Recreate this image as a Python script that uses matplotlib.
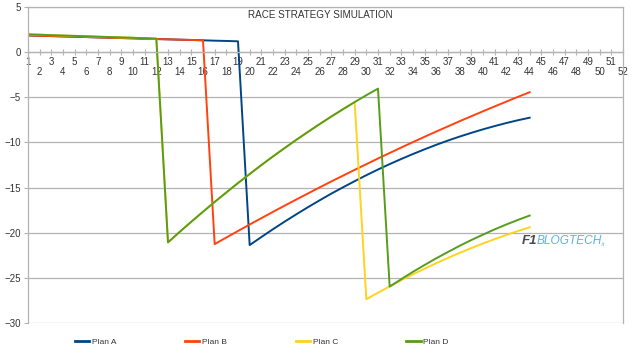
import matplotlib
matplotlib.use("Agg")
import matplotlib.pyplot as plt

plt.rcParams['font.family'] = ['Liberation Sans', 'DejaVu Sans']

# lap numbers for each series
laps_a = list(range(1, 45))
laps_b = list(range(1, 45))
laps_c = list(range(1, 45))
laps_d = list(range(1, 45))

# Plan A: pit at lap 19
plan_a = [1.85, 1.81, 1.78, 1.74, 1.71, 1.67, 1.63, 1.60, 1.56, 1.53,
          1.49, 1.45, 1.42, 1.38, 1.35, 1.31, 1.27, 1.24, 1.20,
          -21.37, -20.48, -19.61, -18.77, -17.96, -17.17, -16.41, -15.67,
          -14.97, -14.29, -13.63, -13.00, -12.40, -11.83, -11.28, -10.76,
          -10.26, -9.79, -9.35, -8.94, -8.55, -8.19, -7.85, -7.54, -7.26]

# Plan B: pit at lap 16
plan_b = [1.85, 1.81, 1.78, 1.74, 1.71, 1.67, 1.63, 1.60, 1.56, 1.53,
          1.49, 1.45, 1.42, 1.38, 1.35, 1.31,
          -21.26, -20.53, -19.81, -19.09, -18.39, -17.69, -17.00, -16.32,
          -15.65, -14.98, -14.32, -13.68, -13.04, -12.41, -11.78, -11.17,
          -10.56, -9.96, -9.37, -8.79, -8.22, -7.65, -7.10, -6.55, -6.01,
          -5.48, -4.95, -4.44]

# Plan C: pits at lap 12 and 29
plan_c = [1.97, 1.93, 1.88, 1.84, 1.80, 1.76, 1.71, 1.67, 1.63, 1.59,
          1.54, 1.50,
          -21.07, -19.91, -18.78, -17.68, -16.59, -15.54, -14.50, -13.50,
          -12.51, -11.55, -10.62, -9.71, -8.83, -7.97, -7.13, -6.32, -5.53,
          -27.37, -26.64, -25.94, -25.26, -24.61, -23.98, -23.37, -22.79,
          -22.23, -21.70, -21.19, -20.71, -20.25, -19.81, -19.40]

# Plan D: pits at lap 12 and 31
plan_d = [1.97, 1.93, 1.88, 1.84, 1.80, 1.76, 1.71, 1.67, 1.63, 1.59,
          1.54, 1.50,
          -21.07, -19.91, -18.78, -17.68, -16.59, -15.54, -14.50, -13.50,
          -12.51, -11.55, -10.62, -9.71, -8.83, -7.97, -7.13, -6.32, -5.53,
          -4.77, -4.04,
          -25.97, -25.14, -24.33, -23.57, -22.83, -22.13, -21.45, -20.81,
          -20.21, -19.63, -19.09, -18.58, -18.10]

x_ticks = list(range(1, 53))
y_ticks = [5, 0, -5, -10, -15, -20, -25, -30]

fig = plt.figure(figsize=(6.4, 3.55), dpi=100)
ax = fig.add_axes([28/640, 1-323/355, (623-28)/640, (323-7)/355])

grey = '#b3b3b3'
ax.plot(laps_a, plan_a, color='#004586', lw=1.4, label='Plan A')
ax.plot(laps_b, plan_b, color='#ff420e', lw=1.4, label='Plan B')
ax.plot(laps_c, plan_c, color='#ffd320', lw=1.4, label='Plan C')
ax.plot(laps_d, plan_d, color='#579d1c', lw=1.4, label='Plan D')

ax.set_xlim(1, 52)
ax.set_ylim(-30, 5)
ax.set_yticks(y_ticks)
ax.yaxis.grid(True, color=grey, lw=0.9)
ax.set_axisbelow(True)

ax.set_xticks(x_ticks)
ax.set_xticklabels([str(n) if n % 2 else '\n' + str(n) for n in x_ticks])
ax.spines['bottom'].set_position(('data', 0))
for s in ax.spines.values():
    s.set_color(grey)
    s.set_linewidth(0.9)
ax.tick_params(axis='x', direction='inout', length=5, width=0.8, color=grey,
               labelsize=7, labelcolor='#333333', pad=1)
ax.tick_params(axis='y', direction='out', length=3, width=0.8, color=grey,
               labelsize=7, labelcolor='#333333', pad=2)
for lbl in ax.get_xticklabels():
    lbl.set_linespacing(1.05)

ax.text(0.492, 0.99, 'RACE STRATEGY SIMULATION', transform=ax.transAxes,
        ha='center', va='top', fontsize=7.1, color='#333333')

fig.legend(loc='center', bbox_to_anchor=(262/640, 1-342/355), ncol=4,
           frameon=False, fontsize=6, handlelength=1.7, handletextpad=0.35,
           columnspacing=8.2, labelcolor='#333333')
for line in fig.legends[0].get_lines():
    line.set_linewidth(2)

# watermark
fig.text(522/640, 1-241/355, 'F1', fontsize=9.5, fontweight='bold',
         fontstyle='italic', color='#4a4a4a', va='center')
fig.text(537/640, 1-241/355, 'BLOGTECH', fontsize=8.6, fontstyle='italic',
         color='#5ab4e5', va='center')
fig.text(601/640, 1-244/355, '.it', fontsize=4, fontstyle='italic',
         color='#5ab4e5', va='center')

fig.savefig('out.png', dpi=100)
